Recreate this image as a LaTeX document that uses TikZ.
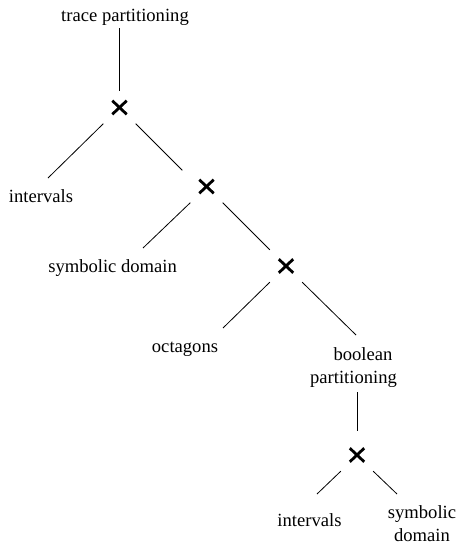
\documentclass[tikz,border=0pt]{standalone}
\usepackage{fontspec}
\setmainfont{Liberation Serif}
\begin{document}
\begin{tikzpicture}[x=1pt,y=-1pt,
  txt/.style={font=\fontsize{18.6}{22.5}\selectfont, inner sep=0pt, anchor=base, align=center},
  crossnode/.style={minimum size=32pt, inner sep=0pt, path picture={
     \draw[line width=2.8pt] ([shift={(-7.2pt,-6.8pt)}]path picture bounding box.center)
       -- ([shift={(7.2pt,6.8pt)}]path picture bounding box.center);
     \draw[line width=2.8pt] ([shift={(-7.2pt,6.8pt)}]path picture bounding box.center)
       -- ([shift={(7.2pt,-6.8pt)}]path picture bounding box.center);}},
  branch/.style={line width=0.8pt}
]
\useasboundingbox (0,0) rectangle (456,544);

% labels and product nodes (two-line labels sit on their last baseline)
\node[txt] (tp) at (125,21) {trace partitioning};
\node[crossnode] (x1) at (119.5,107.5) {};
\node[txt] (iv1) at (41,202) {intervals};
\node[crossnode] (x2) at (206.5,186.5) {};
\node[txt] (sd1) at (112.6,272) {symbolic domain};
\node[crossnode] (x3) at (286,266) {};
\node[txt] (oct) at (185,352) {octagons};
\node[txt] (bp) at (353.5,383) {\hspace*{19pt}boolean\\partitioning};
\node[crossnode] (x4) at (357,455) {};
\node[txt] (iv2) at (309.5,526) {intervals};
\node[txt] (sd2) at (422,541) {symbolic\\domain};

% tree branches
\draw[branch] ([shift={(-5.5,7)}]tp.base) -- (x1.north);
\draw[branch] (x1.south west) -- ([shift={(7,-24)}]iv1.base);
\draw[branch] (x1.south east) -- ([xshift=-8pt]x2.north west);
\draw[branch] (x2.south west) -- ([shift={(30.4,-24)}]sd1.base);
\draw[branch] (x2.south east) -- (x3.north west);
\draw[branch] (x3.south west) -- ([shift={(38,-24)}]oct.base);
\draw[branch] (x3.south east) -- ([shift={(2.5,-48)}]bp.base);
\draw[branch] ([shift={(3.5,9)}]bp.base) -- ([yshift=8pt]x4.north);
\draw[branch] (x4.south west) -- ([shift={(7.5,-32)}]iv2.base);
\draw[branch] (x4.south east) -- ([shift={(-25,-47)}]sd2.base);
\end{tikzpicture}
\end{document}
